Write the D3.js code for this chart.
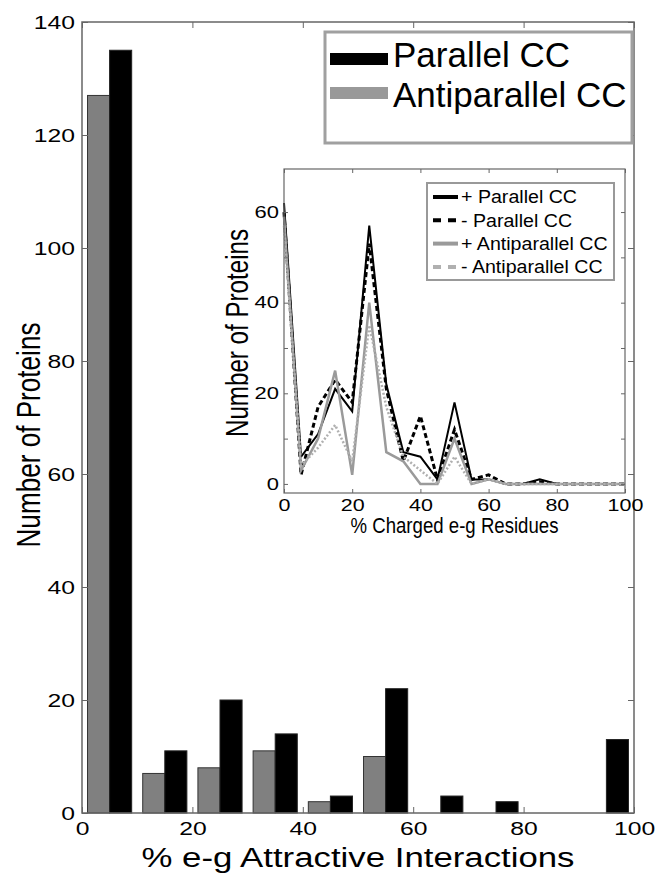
<!DOCTYPE html>
<html>
<head>
<meta charset="utf-8">
<script src="https://cdn.jsdelivr.net/npm/d3@7"></script>
<style>
  body { margin: 0; background: #fff; }
  svg { display: block; font-family: "Liberation Sans", Arial, sans-serif; }
</style>
</head>
<body>
<svg id="plot" width="656" height="873"></svg>
<script>
// main histogram: bin centres and counts per bin
var binCenters = [5, 15, 25, 35, 45, 55, 65, 75, 85, 95];
var antiCounts = [127, 7, 8, 11, 2, 10, 0, 0, 0, 0];
var parCounts  = [135, 11, 20, 14, 3, 22, 3, 2, 0, 13];
var mainXTicks = [0, 20, 40, 60, 80, 100];
var mainYTicks = [0, 20, 40, 60, 80, 100, 120, 140];

// inset: % charged e-g residues
var insetX     = [0, 5, 10, 15, 20, 25, 30, 35, 40, 45, 50, 55, 60, 65, 70, 75, 80, 85, 90, 95, 100];
var plusPar    = [62, 6, 11, 21, 16, 57, 22, 7, 6, 1, 18, 1, 1, 0, 0, 1, 0, 0, 0, 0, 0];
var minusPar   = [60, 2, 17, 23, 18, 53, 21, 5, 15, 1, 12, 1, 2, 0, 0, 0.5, 0, 0, 0, 0, 0];
var plusAnti   = [59, 3, 10, 25, 2, 40, 7, 5, 0, 0, 10, 0, 1, 0, 0, 0, 0, 0, 0, 0, 0];
var minusAnti  = [57, 4, 8, 13, 5, 35, 17, 6, 3, 0, 6, 0, 1, 0, 0, 0, 0, 0, 0, 0, 0];
var insetXTicks = [0, 20, 40, 60, 80, 100];
var insetYTicks = [0, 10, 20, 30, 40, 50, 60];

var mainLegend = ["Parallel CC", "Antiparallel CC"];
var insetLegend = ["+ Parallel CC", "- Parallel CC", "+ Antiparallel CC", "- Antiparallel CC"];

var svg = d3.select("#plot");
var frameColor = "#666";

// stretch text horizontally by a factor (the picture is wider than the font)
var stretch = function(sel, f) {
	sel.each(function() {
		var w = this.getComputedTextLength();
		if (w > 0) d3.select(this).attr("textLength", w * f).attr("lengthAdjust", "spacingAndGlyphs");
	});
};
var fit = function(sel, w) {
	sel.attr("textLength", w).attr("lengthAdjust", "spacingAndGlyphs");
};

var styleAxis = function(g, fs) {
	g.select(".domain").remove();
	g.selectAll("line").attr("stroke", frameColor);
	g.selectAll("text").attr("font-size", fs).attr("fill", "#000").attr("font-family", null);
};

// ---------- main chart ----------
var x = d3.scaleLinear().domain([0, 100]).range([82, 634]);
var y = d3.scaleLinear().domain([0, 140]).range([813, 22]);
var barW = 4;

var bars = svg.append("g");
binCenters.forEach(function(c, i) {
	bars.append("rect")
		.attr("x", x(c - barW)).attr("width", x(c) - x(c - barW))
		.attr("y", y(antiCounts[i])).attr("height", y(0) - y(antiCounts[i]))
		.attr("fill", "#808080").attr("stroke", "#333").attr("stroke-width", 1);
	bars.append("rect")
		.attr("x", x(c)).attr("width", x(c + barW) - x(c))
		.attr("y", y(parCounts[i])).attr("height", y(0) - y(parCounts[i]))
		.attr("fill", "#000").attr("stroke", "#222").attr("stroke-width", 1);
});

var gx = svg.append("g").attr("transform", "translate(0," + y(0) + ")")
	.call(d3.axisBottom(x).tickValues(mainXTicks).tickSize(-6).tickPadding(9));
styleAxis(gx, 19);
stretch(gx.selectAll("text"), 1.3);

var gy = svg.append("g").attr("transform", "translate(" + x(0) + ",0)")
	.call(d3.axisLeft(y).tickValues(mainYTicks).tickSize(-6).tickPadding(7));
styleAxis(gy, 19);
stretch(gy.selectAll("text"), 1.3);

var gt = svg.append("g").attr("transform", "translate(0," + y(140) + ")")
	.call(d3.axisTop(x).tickValues(mainXTicks).tickSize(-6).tickFormat(""));
styleAxis(gt, 19);
var gr = svg.append("g").attr("transform", "translate(" + x(100) + ",0)")
	.call(d3.axisRight(y).tickValues(mainYTicks).tickSize(-6).tickFormat(""));
styleAxis(gr, 19);

svg.append("rect")
	.attr("x", x(0)).attr("y", y(140))
	.attr("width", x(100) - x(0)).attr("height", y(0) - y(140))
	.attr("fill", "none").attr("stroke", frameColor).attr("stroke-width", 1.5);

fit(svg.append("text")
	.attr("x", (x(0) + x(100)) / 2).attr("y", 867)
	.attr("text-anchor", "middle").attr("font-size", 27)
	.text("% e-g Attractive Interactions"), 433);

fit(svg.append("text")
	.attr("transform", "translate(40,435) rotate(-90)")
	.attr("text-anchor", "middle").attr("font-size", 34)
	.text("Number of Proteins"), 225);

// main legend
var leg = svg.append("g");
leg.append("rect").attr("x", 325).attr("y", 32).attr("width", 307).attr("height", 111)
	.attr("fill", "#fff").attr("stroke", "#a0a0a0").attr("stroke-width", 3);
var legColors = ["#000", "#999"];
mainLegend.forEach(function(name, i) {
	leg.append("rect").attr("x", 330).attr("y", 53 + i * 34).attr("width", 58).attr("height", 12)
		.attr("fill", legColors[i]);
	leg.append("text").attr("x", 393).attr("y", 67 + i * 40)
		.attr("font-size", 35).text(name);
});

// ---------- inset ----------
var xi = d3.scaleLinear().domain([0, 100]).range([284, 625]);
var yi = d3.scaleLinear().domain([-2, 69.5]).range([493, 169]);

svg.append("rect")
	.attr("x", xi(0)).attr("y", yi(69.5))
	.attr("width", xi(100) - xi(0)).attr("height", yi(-2) - yi(69.5))
	.attr("fill", "#fff");

var series = [
	{ values: plusPar,   color: "#000",    width: 2,   dash: null },
	{ values: minusPar,  color: "#000",    width: 3,   dash: "5,3" },
	{ values: plusAnti,  color: "#9a9a9a", width: 2.5, dash: null },
	{ values: minusAnti, color: "#b0b0b0", width: 2.5, dash: "2,2" }
];

var line = d3.line()
	.x(function(d) { return xi(d[0]); })
	.y(function(d) { return yi(d[1]); });

series.forEach(function(s) {
	svg.append("path")
		.datum(insetX.map(function(v, i) { return [v, s.values[i]]; }))
		.attr("d", line)
		.attr("fill", "none")
		.attr("stroke", s.color)
		.attr("stroke-width", s.width)
		.attr("stroke-dasharray", s.dash)
		.attr("stroke-linejoin", "miter");
});

var gxi = svg.append("g").attr("transform", "translate(0," + yi(-2) + ")")
	.call(d3.axisBottom(xi).tickValues(insetXTicks).tickSize(-4).tickPadding(6));
styleAxis(gxi, 16.5);
stretch(gxi.selectAll("text"), 1.3);

var gyi = svg.append("g").attr("transform", "translate(" + xi(0) + ",0)")
	.call(d3.axisLeft(yi).tickValues(insetYTicks).tickSize(-4).tickPadding(5)
		.tickFormat(function(d) { return d % 20 === 0 ? d : ""; }));
styleAxis(gyi, 16.5);
stretch(gyi.selectAll("text"), 1.33);

var gti = svg.append("g").attr("transform", "translate(0," + yi(69.5) + ")")
	.call(d3.axisTop(xi).tickValues(insetXTicks).tickSize(-4).tickFormat(""));
styleAxis(gti, 16.5);
var gri = svg.append("g").attr("transform", "translate(" + xi(100) + ",0)")
	.call(d3.axisRight(yi).tickValues(insetYTicks).tickSize(-4).tickFormat(""));
styleAxis(gri, 16.5);

svg.append("rect")
	.attr("x", xi(0)).attr("y", yi(69.5))
	.attr("width", xi(100) - xi(0)).attr("height", yi(-2) - yi(69.5))
	.attr("fill", "none").attr("stroke", frameColor).attr("stroke-width", 1.2);

fit(svg.append("text")
	.attr("x", (xi(0) + xi(100)) / 2).attr("y", 533)
	.attr("text-anchor", "middle").attr("font-size", 22)
	.text("% Charged e-g Residues"), 208);

fit(svg.append("text")
	.attr("transform", "translate(248,333) rotate(-90)")
	.attr("text-anchor", "middle").attr("font-size", 31)
	.text("Number of Proteins"), 208);

// inset legend
var ileg = svg.append("g");
ileg.append("rect").attr("x", 427).attr("y", 183).attr("width", 187).attr("height", 97)
	.attr("fill", "#fff").attr("stroke", "#999").attr("stroke-width", 2);
var legDash = [null, "8,7", null, "8,7"];
insetLegend.forEach(function(name, i) {
	var cy = 197 + i * 23.3;
	ileg.append("line").attr("x1", 433).attr("x2", 458).attr("y1", cy).attr("y2", cy)
		.attr("stroke", series[i].color).attr("stroke-width", 4)
		.attr("stroke-dasharray", legDash[i]);
	stretch(ileg.append("text").attr("x", 461).attr("y", cy + 6.3)
		.attr("font-size", 17.5).text(name), 1.12);
});
</script>
</body>
</html>
